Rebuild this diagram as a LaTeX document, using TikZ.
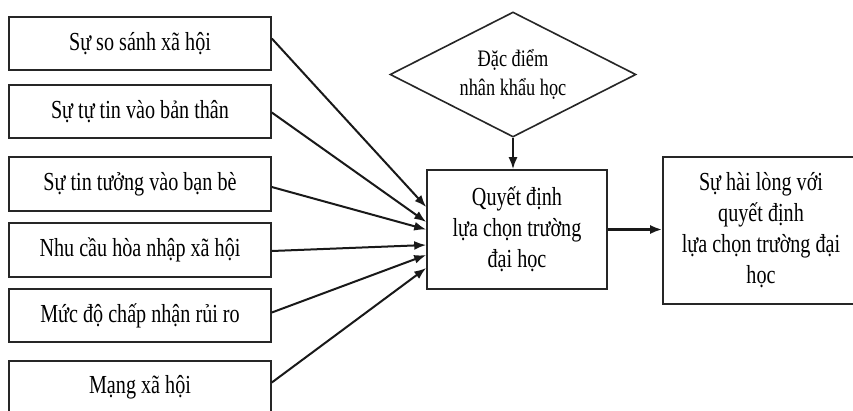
\documentclass[tikz,border=0pt]{standalone}
\usepackage{fontspec}
\setmainfont{Liberation Serif}[FakeStretch=0.775]
\usetikzlibrary{shapes.geometric,arrows.meta}
\begin{document}
\begin{tikzpicture}[x=1pt,y=-1pt,
  box/.style={draw=black!85,line width=1.6pt,inner sep=0pt,align=center,font=\fontsize{26}{31}\selectfont},
  lbox/.style={box,minimum width=262pt,minimum height=53pt},
  conn/.style={draw=black!90,line width=2pt,-{Latex[length=12pt,width=9pt]}}]
\useasboundingbox[fill=white] (0,0) rectangle (853,410);
\node[lbox] (b1) at (140,43.5) {Sự so sánh xã hội};
\node[lbox] (b2) at (140,111.5) {Sự tự tin vào bản thân};
\node[lbox,minimum height=54pt] (b3) at (140,184) {Sự tin tưởng vào bạn bè};
\node[lbox,minimum height=54pt] (b4) at (140,250) {Nhu cầu hòa nhập xã hội};
\node[lbox] (b5) at (140,315.5) {Mức độ chấp nhận rủi ro};
\node[lbox] (b6) at (140,387.5) {Mạng xã hội};
\node[box,minimum width=180pt,minimum height=119pt] (c) at (517,229.5) {Quyết định\\lựa chọn trường\\đại học};
\node[box,minimum width=196pt,minimum height=147pt] (r) at (761,230.5) {Sự hài lòng với\\quyết định\\lựa chọn trường đại\\học};
\node[box,diamond,aspect=2,minimum width=246pt,minimum height=125pt,font=\fontsize{23.6}{29}\selectfont] (d) at (513,74.5) {Đặc điểm\\nhân khẩu học};
\draw[conn] ([yshift=5pt]b1.east) -- ([yshift=22.5pt]c.west);
\draw[conn] ([yshift=-1pt]b2.east) -- ([yshift=7.5pt]c.west);
\draw[conn] ([yshift=-3pt]b3.east) -- (c.west);
\draw[conn] ([yshift=-1pt]b4.east) -- ([yshift=-15.5pt]c.west);
\draw[conn] ([yshift=3pt]b5.east) -- ([yshift=-25.5pt]c.west);
\draw[conn] ([yshift=5pt]b6.east) -- ([yshift=-38.5pt]c.west);
\draw[conn] (d.south) -- (d.south |- c.north);
\draw[conn,line width=2.6pt] (c.east) -- (c.east -| r.west);
\end{tikzpicture}
\end{document}
